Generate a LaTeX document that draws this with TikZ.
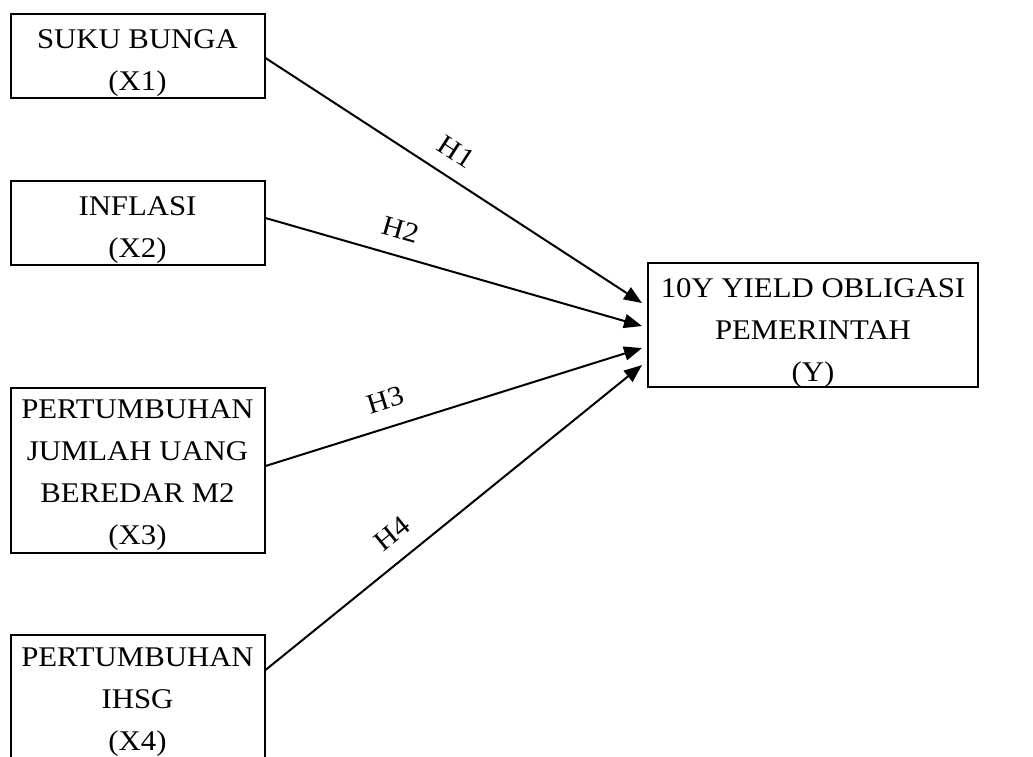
\documentclass[tikz,border=0pt]{standalone}
\usepackage{fontspec}
\setmainfont{Liberation Serif}[FakeStretch=1.08]
\usetikzlibrary{arrows.meta,calc}
\begin{document}
\begin{tikzpicture}[x=1pt,y=-1pt,
  box/.style={draw, line width=2pt, rectangle, inner xsep=0pt, inner ysep=0pt,
    align=center, font=\fontsize{28.5}{42}\selectfont, anchor=north west},
  link/.style={line width=2pt, -{Triangle[length=18pt,width=14pt]}},
  hlab/.style={sloped, anchor=south, inner xsep=0pt, font=\fontsize{28}{42}\selectfont}]
\useasboundingbox (0,0) rectangle (1033,756);
\node[box, minimum width=254pt] (x1) at (9.5,13)
  {\rule{0pt}{34pt}SUKU BUNGA\\(X1)\rule[-8pt]{0pt}{8pt}};
\node[box, minimum width=254pt] (x2) at (9.5,180)
  {\rule{0pt}{34pt}INFLASI\\(X2)\rule[-8pt]{0pt}{8pt}};
\node[box, minimum width=254pt] (x3) at (9.5,387)
  {\rule{0pt}{30pt}PERTUMBUHAN\\JUMLAH UANG\\BEREDAR M2\\(X3)\rule[-9pt]{0pt}{9pt}};
\node[box, minimum width=254pt] (x4) at (9.5,634)
  {\rule{0pt}{31pt}PERTUMBUHAN\\IHSG\\(X4)\rule[-9pt]{0pt}{9pt}};
\node[box, minimum width=330pt] (y) at (647,262)
  {\rule{0pt}{34pt}10Y YIELD OBLIGASI\\PEMERINTAH\\(Y)\rule[-6pt]{0pt}{6pt}};
\draw[link] ([yshift=-2pt]x1.east) -- node[hlab, pos=0.47, inner ysep=15pt] {H1}
  ([xshift=-5pt,yshift=22pt]y.west);
\draw[link] ([yshift=5pt]x2.east) -- node[hlab, pos=0.34, inner ysep=15.5pt] {H2}
  ([xshift=-5pt,yshift=-1pt]y.west);
\draw[link] ([yshift=4.5pt]x3.east) -- node[hlab, pos=0.34, inner ysep=16.5pt] {H3}
  ([xshift=-5pt,yshift=-23pt]y.west);
\draw[link] ([yshift=-36pt]x4.north east) -- node[hlab, pos=0.38, inner ysep=16.5pt] {H4}
  ([xshift=-5pt,yshift=-40pt]y.west);
\end{tikzpicture}
\end{document}
